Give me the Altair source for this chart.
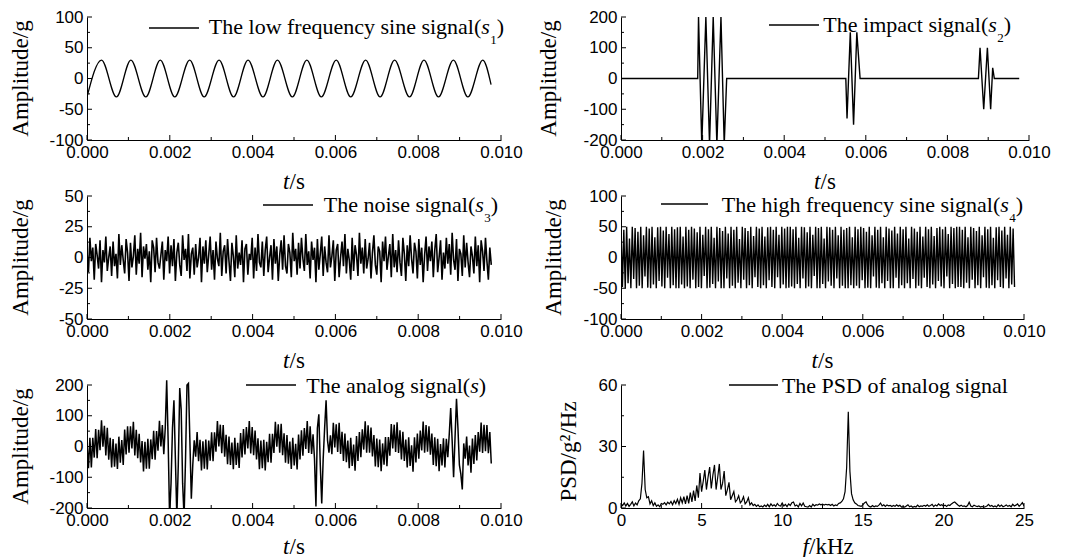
import altair as alt
import pandas as pd

SANS = "Liberation Sans"
SERIF = "Liberation Serif"

# ---------------- data ----------------
# s1: low frequency sine (turning points)
S1_T = [0.0, 0.00035, 0.00071, 0.00106, 0.00142, 0.00177, 0.00212, 0.00248,
        0.00283, 0.00319, 0.00354, 0.00389, 0.00425, 0.00460, 0.00496, 0.00531,
        0.00566, 0.00602, 0.00637, 0.00673, 0.00708, 0.00743, 0.00779, 0.00814,
        0.00849, 0.00885, 0.00920, 0.00956, 0.00976]
S1_V = [-30, 30, -30, 30, -30, 30, -30, 30, -30, 30, -30, 30, -30, 30,
        -30, 30, -30, 30, -30, 30, -30, 30, -30, 30, -30, 30, -30, 30, -10]

# s2: impact signal (vertices)
S2_T = [0.0, 0.00188, 0.00190, 0.00198, 0.00208, 0.00217, 0.00226, 0.00235, 0.00245,
        0.00253, 0.00259, 0.00551, 0.00554, 0.00562, 0.00570, 0.00578, 0.00586,
        0.00876, 0.00880, 0.00889, 0.00898, 0.00906, 0.00911, 0.00915, 0.00976]
S2_V = [0, 0, 200, -215, 200, -215, 200, -215, 200, -215, 0, 0, -130, 150, -150,
        150, 0, 0, 100, -100, 100, -100, 35, 0, 0]

DT = 0.000035  # sample spacing of the dense series

S3_V = [5, -12, 16, -3, 8, -18, 11, 2, -9, 14, -20, 6, -4, 17, -11, 0, 9, -15, 13, -7,
        3, -17, 19, -6, 10, -2, -13, 15, 4, -19, 12, -8, 1, 18, -14, 7, -5, 20, -16, 9,
        -1, 11, -10, 5, -20, 14, 8, -12, 16, -4, -9, 2, 13, -18, 6, -3, 17, -13, 10, -7,
        15, -19, 4, 12, -6, -15, 18, -2, 7, -11, 19, -17, 3, 8, -14, 11, -8, 0, 16, -20,
        9, -5, 14, -12, 2, 17, -10, 6, -18, 13, -1, -7, 20, -15, 5, 10, -13, 15, -3, -19,
        12, 1, -16, 18, -9, 4, -6, 14, -20, 7, 11, -14, 3, -2, 16, -17, 8, -11, 19, -4,
        -8, 13, -15, 6, 17, -12, 0, 10, -18, 15, -5, 9, -19, 2, 14, -10, 18, -7, -13, 11,
        4, -16, 20, -3, 7, -14, 12, -9, 16, -1, -11, 19, -6, 5, -17, 13, -2, 8, -20, 15,
        -10, 3, 17, -15, 9, -4, -12, 18, -8, 1, 14, -19, 6, 11, -16, 0, 13, -7, 19, -13,
        7, -2, -18, 16, -11, 10, 2, -15, 20, -5, 8, -13, 15, -9, -1, 12, -17, 4, 18, -6,
        -14, 9, 5, -20, 13, -3, 17, -10, 1, 11, -16, 19, -8, 6, -12, 14, -4, -15, 16, 3,
        -19, 10, -7, 18, -1, -13, 12, 5, -17, 15, -6, 8, -20, 2, 17, -11, 9, -3, 13, -16,
        6, 19, -12, 0, 14, -18, 4, -9, 16, -5, 11, -14, 20, -2, -10, 15, -19, 7, 3, -15,
        18, -8, 12, -4, -16, 9, 1, -13, 17, -7, 10, -20, 14, 5, -11, 16, -3, -18, 8, -6]

S4_V = [50, -48, 45, -50, 50, -42, 31, -50, 50, -35, 48, -50, 42, -46, 50, -50, 36, -31, 50, -49,
        47, -50, 50, -44, 33, -50, 49, -38, 50, -47, 44, -50, 50, -33, 38, -50, 50, -45, 46, -50,
        49, -50, 50, -44, 34, -50, 50, -47, 45, -50, 50, -36, 47, -50, 41, -48, 50, -50, 37, -30,
        50, -50, 46, -49, 50, -43, 32, -50, 50, -39, 48, -50, 43, -50, 50, -34, 39, -50, 50, -46,
        45, -50, 50, -41, 30, -50, 50, -36, 48, -50, 43, -45, 50, -50, 35, -32, 50, -48, 47, -50,
        50, -45, 34, -50, 49, -37, 50, -48, 45, -50, 50, -32, 37, -50, 50, -44, 47, -50, 50, -49,
        50, -47, 46, -50, 50, -43, 32, -50, 50, -34, 49, -50, 41, -47, 50, -50, 37, -30, 50, -50,
        48, -50, 50, -43, 31, -50, 50, -39, 49, -46, 45, -50, 50, -34, 36, -50, 50, -46, 45, -50,
        48, -50, 50, -45, 33, -50, 50, -46, 46, -50, 50, -37, 48, -50, 42, -49, 50, -50, 36, -31,
        50, -49, 45, -50, 50, -42, 33, -50, 50, -38, 47, -50, 44, -50, 50, -33, 39, -50, 50, -45,
        46, -50, 50, -42, 31, -50, 50, -35, 47, -50, 42, -46, 50, -50, 34, -33, 50, -48, 46, -50,
        50, -44, 35, -50, 48, -38, 50, -47, 46, -50, 50, -31, 38, -50, 50, -43, 48, -50, 50, -48,
        50, -48, 45, -50, 50, -41, 33, -50, 50, -36, 48, -50, 43, -45, 50, -50, 36, -32, 50, -49,
        46, -50, 50, -45, 32, -50, 49, -37, 50, -48, 44, -50, 50, -34, 37, -50, 50, -44, 47, -48]

S_V = [15, -71, 28, -68, 28, -36, 57, -38, 54, -12,
       85, -1, 67, -29, 61, -43, 28, -68, 24, -66,
       10, -73, 32, -53, 21, -60, 55, -26, 66, -20,
       66, -6, 80, -29, 54, -38, 41, -52, 18, -81,
       15, -72, 25, -72, 23, -41, 51, -43, 50, -14,
       84, 0, 70, -25, 60, 215, 20, -230, -120, 60,
       150, -40, -230, -60, 190, 120, -120, -230, -40, 200,
       205, 20, -170, -60, 20, -33, 47, -48, 22, -78,
       17, -72, 23, -75, 19, -46, 46, -48, 46, -17,
       83, 0, 71, -22, 70, -33, 38, -58, 32, -60,
       13, -74, 28, -60, 12, -70, 44, -36, 57, -26,
       63, -6, 83, -23, 63, -28, 52, -42, 27, -74,
       19, -71, 22, -78, 15, -51, 41, -53, 41, -21,
       80, -1, 72, -20, 74, -28, 43, -53, 37, -56,
       16, -73, 28, -62, 9, -75, 39, -42, 53, -30,
       60, -8, 83, -21, 66, -24, 40, -40, -195, 60,
       105, -60, -185, -40, 60, 150, 20, -20, 36, -25,
       77, -3, 72, -18, 77, -24, 48, -47, 42, -51,
       19, -71, 28, -63, 6, -79, 34, -47, 47, -35,
       56, -10, 82, -20, 69, -20, 62, -32, 37, -65,
       26, -67, 23, -80, 10, -59, 31, -64, 31, -30,
       73, -6, 71, -18, 79, -21, 53, -42, 48, -47,
       23, -68, 30, -63, 4, -82, 30, -52, 42, -40,
       52, -13, 81, -20, 70, -17, 66, -27, 42, -60,
       30, -64, 25, -80, 8, -62, 27, -68, 25, -35,
       40, 125, 20, -100, 30, 155, 60, -60, -90, -140,
       10, -40, 32, -62, 3, -85, 26, -57, 37, -45,
       47, -17, 78, -21, 71, -15, 70, -22, 47, -55]

DF_KHZ = 0.1  # PSD bin spacing
PSD_V = [2.0, 1.2, 2.5, 1.0, 2.2, 0.8, 1.8, 3.0, 1.0, 2.4,
         1.5, 3.5, 4.5, 12, 28, 9, 5, 5.5, 2, 3.5,
         1.2, 2.5, 0.8, 1.5, 0.6, 2.2, 1.8, 2.6, 1.5, 2.8,
         2.0, 3.2, 1.6, 3.6, 2.2, 4.2, 1.8, 5.0, 2.5, 5.5,
         2.0, 6.0, 2.2, 7.5, 3.0, 8.5, 3.5, 11, 5, 17,
         8, 13, 18.5, 9, 15, 20, 9.5, 16, 21, 9,
         15, 21.5, 9, 12, 18, 6, 9, 12.5, 4, 6,
         8, 3, 4, 6, 2.5, 3.5, 5.5, 2, 3, 5,
         1.5, 2.5, 1.2, 1.8, 0.8, 1.5, 0.6, 1.0, 0.5, 1.4,
         0.7, 1.8, 0.6, 2.0, 1.0, 1.6, 0.8, 2.2, 1.2, 1.0,
         2.4, 1.0, 1.8, 0.7, 2.0, 1.2, 2.6, 2.9, 1.0, 1.5,
         0.5, 2.2, 1.0, 2.4, 0.8, 0.6, 0.4, 1.2, 0.5, 1.8,
         1.0, 1.6, 1.4, 2.0, 1.6, 1.9, 1.4, 1.8, 1.5, 1.7,
         1.2, 1.8, 1.0, 1.5, 1.2, 2.2, 2.5, 3.2, 4.5, 8,
         20, 47, 18, 7, 4, 2.5, 2.0, 1.2, 1.0, 0.8,
         1.5, 2.5, 3.0, 1.5, 0.8, 0.5, 1.2, 0.6, 1.0, 0.8,
         1.4, 2.4, 1.0, 1.6, 0.8, 1.5, 1.1, 1.3, 0.7, 1.2,
         0.8, 1.6, 0.9, 1.3, 0.5, 0.7, 0.4, 1.0, 1.6, 0.6,
         1.0, 0.4, 0.8, 0.5, 1.4, 0.6, 1.0, 0.8, 1.3, 0.9,
         1.6, 0.8, 1.2, 1.8, 0.7, 1.5, 1.0, 2.0, 1.2, 1.6,
         1.0, 1.4, 0.8, 1.5, 1.2, 2.0, 2.6, 2.9, 2.2, 1.5,
         0.9, 1.4, 0.8, 1.0, 0.6, 1.2, 2.8, 1.0, 0.6, 1.4,
         1.0, 0.7, 1.0, 0.5, 0.8, 0.4, 0.6, 1.0, 1.8, 0.8,
         1.2, 0.6, 1.0, 0.5, 1.6, 0.8, 1.4, 0.6, 1.0, 1.5,
         0.8, 1.2, 0.6, 1.8, 1.0, 1.4, 2.0, 0.8, 1.6, 2.6, 1.0]

T_MAJOR = [0.0, 0.002, 0.004, 0.006, 0.008, 0.010]
T_MINOR = [0.001, 0.003, 0.005, 0.007, 0.009]
F_MAJOR = [0, 5, 10, 15, 20, 25]
F_MINOR = [2.5, 7.5, 12.5, 17.5, 22.5]


def dense(vals, step):
    return pd.DataFrame({"x": [round(i * step, 7) for i in range(len(vals))], "y": vals})


def txt(label, x, y, size, align="left", baseline="alphabetic", style="normal", angle=None):
    kw = dict(align=align, baseline=baseline, font=SERIF, fontSize=size,
              fontStyle=style, color="black")
    if angle is not None:
        kw["angle"] = angle
    return alt.Chart(pd.DataFrame({"label": [label]})).mark_text(**kw).encode(
        x=alt.value(x), y=alt.value(y), text="label:N")


def panel(df, w, h, top, xdom, ydom, xmaj, xmin, ymaj, ymin, xfmt, legend, ytitle,
          ytx, yty, xtitle, interp="linear", sw=1.4):
    xs = alt.Scale(domain=xdom, nice=False, zero=False)
    ys = alt.Scale(domain=ydom, nice=False, zero=False, range=[h, top])
    xa = alt.Axis(values=xmaj, format=xfmt, title=None, labelPadding=4)
    ya = alt.Axis(values=ymaj, title=None, labelPadding=4,
                  labelExpr="toString(datum.value)")
    layers = [alt.Chart(df).mark_line(color="black", strokeWidth=sw, clip=True,
                                      interpolate=interp).encode(
        x=alt.X("x:Q", scale=xs, axis=xa), y=alt.Y("y:Q", scale=ys, axis=ya))]
    for vals, L in ((xmaj, 5), (xmin, 3)):
        layers.append(alt.Chart(pd.DataFrame({"x": vals})).mark_rule(
            color="black", strokeWidth=1).encode(
            x=alt.X("x:Q", scale=xs, axis=xa), y=alt.value(h), y2=alt.value(h - L)))
    for vals, L in ((ymaj, 5), (ymin, 3)):
        layers.append(alt.Chart(pd.DataFrame({"y": vals})).mark_rule(
            color="black", strokeWidth=1).encode(
            y=alt.Y("y:Q", scale=ys, axis=ya), x=alt.value(0), x2=alt.value(L)))
    # legend
    (lx1, lx2, ly), R, B, main, sub, ital = legend
    layers.append(alt.Chart(pd.DataFrame({"k": [0]})).mark_rule(
        color="black", strokeWidth=1.3).encode(
        x=alt.value(lx1), x2=alt.value(lx2), y=alt.value(top + ly)))
    B = top + B
    if ital:
        x = R
        layers.append(txt(")", x, B, 22, align="right"))
        x -= 7.3
        if sub:
            layers.append(txt(sub, x, B + 10, 13, align="right"))
            x -= 6.8
        layers.append(txt("s", x, B, 22, align="right", style="italic"))
        x -= 8.6
        layers.append(txt(main, x, B, 22, align="right"))
    else:
        layers.append(txt(main, R, B, 22, align="right"))
    # x title: italic symbol + rest
    sym, rest, joint, base = xtitle
    layers.append(txt(sym, joint, base, 23, align="right", style="italic"))
    layers.append(txt(rest, joint, base, 23, align="left"))
    # y title
    layers.append(txt(ytitle, ytx, top + (h - top) / 2 + yty, 23, align="center",
                      baseline="middle", angle=270))
    return alt.layer(*layers).properties(width=w, height=h)


H = 123
H3 = 133   # bottom row: 10 px of empty band above the plot
WL = 414

p1 = panel(pd.DataFrame({"x": S1_T, "y": S1_V}), WL, H, 0, [0, 0.01], [-100, 100],
           T_MAJOR, T_MINOR, [-100, -50, 0, 50, 100], [-75, -25, 25, 75], ".3f",
           ((62, 112, 11), 417, 17, "The low frequency sine signal(", "1", True),
           "Amplitude/g", -66, 0, ("t", "/s", WL / 2 - 4.5, H + 49), interp="monotone",
           sw=1.3)
p2 = panel(pd.DataFrame({"x": S2_T, "y": S2_V}), 408, H, 0, [0, 0.01], [-200, 200],
           T_MAJOR, T_MINOR, [-200, -100, 0, 100, 200], [-150, -50, 50, 150], ".3f",
           ((148, 198, 8), 390, 15, "The impact signal(", "2", True),
           "Amplitude/g", -72, 0, ("t", "/s", 204 - 4.5, H + 49))
p3 = panel(dense(S3_V, DT), WL, H, 0, [0, 0.01], [-50, 50],
           T_MAJOR, T_MINOR, [-50, -25, 0, 25, 50], [-37.5, -12.5, 12.5, 37.5], ".3f",
           ((176, 226, 9), 411, 16, "The noise signal(", "3", True),
           "Amplitude/g", -66, 0, ("t", "/s", WL / 2 - 4.5, H + 49), sw=1.6)
p4 = panel(dense(S4_V, DT), 403, H, 0, [0, 0.01], [-100, 100],
           T_MAJOR, T_MINOR, [-100, -50, 0, 50, 100], [-75, -25, 25, 75], ".3f",
           ((40, 87, 8), 402, 16, "The high frequency sine signal(", "4", True),
           "Amplitude/g", -67, 0, ("t", "/s", 201.5 - 4.5, H + 49))
p5 = panel(dense(S_V, DT), WL, H3, 10, [0, 0.01], [-200, 200],
           T_MAJOR, T_MINOR, [-200, -100, 0, 100, 200], [-150, -50, 50, 150], ".3f",
           ((159, 209, 0), 399, 8, "The analog signal(", "", True),
           "Amplitude/g", -66, 0, ("t", "/s", WL / 2 - 4.5, H3 + 46), sw=1.5)
p6 = panel(dense(PSD_V, DF_KHZ), 403, H3, 10, [0, 25], [0, 60],
           F_MAJOR, F_MINOR, [0, 30, 60], [15, 45], "d",
           ((108, 157, 0), 387, 8, "The PSD of analog signal", "", False),
           "PSD/g²/Hz", -52, 5, ("f", "/kHz", 207 - 19, H3 + 46), sw=1.2)

chart = alt.concat(p1, p2, p3, p4, p5, p6, columns=2,
                   spacing={"row": 56, "column": 120}, bounds="flush").properties(
    padding={"left": 9, "top": 8, "right": 5, "bottom": 2},
    background="white",
).configure_view(stroke=None).configure_axis(
    grid=False, ticks=False, domainColor="black", domainWidth=1,
    labelColor="black", labelFont=SANS, labelFontSize=17,
    labelFlush=False, labelOverlap=False,
)

chart.save("out.html", embed_options={"renderer": "svg", "actions": False})
